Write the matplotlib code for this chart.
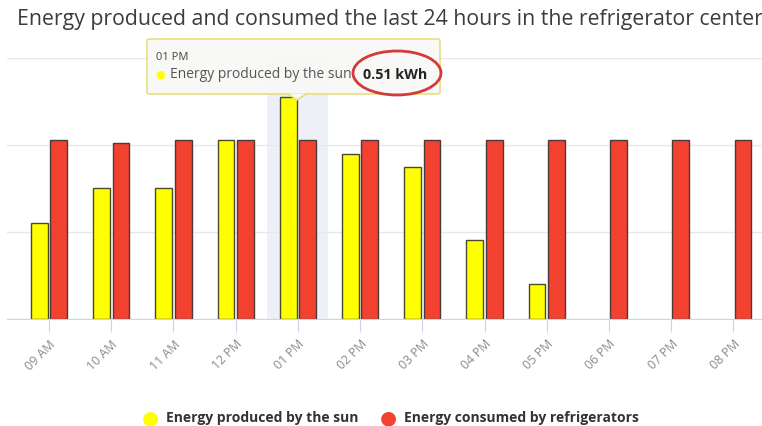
import numpy as np
import matplotlib.pyplot as plt
from matplotlib.patches import FancyBboxPatch, Ellipse, Polygon

hours = ['09 AM', '10 AM', '11 AM', '12 PM', '01 PM', '02 PM',
         '03 PM', '04 PM', '05 PM', '06 PM', '07 PM', '08 PM']
produced = [0.22, 0.30, 0.30, 0.41, 0.51, 0.38, 0.35, 0.18, 0.08, 0, 0, 0]
consumed = [0.41, 0.405, 0.41, 0.41, 0.41, 0.41, 0.41, 0.41, 0.41, 0.41, 0.41, 0.41]
hovered = 4

W, H = 762, 427
fig = plt.figure(figsize=(W / 100, H / 100), dpi=100)
plt.rcParams['font.family'] = ['Open Sans', 'DejaVu Sans']


def px(x, y):
    # pixel position (from top-left) -> figure fraction
    return x / W, 1 - y / H


left, top = px(7, 59)
right, bottom = px(762, 319.5)
ax = fig.add_axes([left, bottom, right - left, top - bottom])

x = np.arange(len(hours))
bw = 0.27
ax.axvspan(hovered - 0.49, hovered + 0.49, color='#e9eef6', alpha=0.8, zorder=0, lw=0)
ax.bar(x - 0.156, produced, bw, color='#ffff00', edgecolor='#4a4a2a',
       linewidth=[1.0 if v > 0 else 0 for v in produced], zorder=3)
ax.bar(x + 0.156, consumed, bw, color='#f3412f', edgecolor='#4a3a3a',
       linewidth=[1.0 if v > 0 else 0 for v in consumed], zorder=3)

ax.set_ylim(0, 0.6)
ax.set_yticks([0, 0.2, 0.4, 0.6])
ax.set_yticklabels([])
ax.tick_params(axis='y', length=0)
ax.set_xlim(-0.675, 11.46)
ax.set_xticks(x)
ax.set_xticklabels(hours, rotation=45, ha='right', rotation_mode='anchor',
                   fontsize=9, color='#8a8a8a')
ax.tick_params(axis='x', length=9, width=0.8, color='#ccd6eb', pad=4)
ax.grid(axis='y', color='#e8e8e8', linewidth=1)
ax.set_axisbelow(True)
for s in ['top', 'right', 'left']:
    ax.spines[s].set_visible(False)
ax.spines['bottom'].set_color('#ccd6eb')
ax.spines['bottom'].set_zorder(4)

fig.text(*px(17, 20), 'Energy produced and consumed the last 24 hours in the refrigerator center',
         fontsize=15.3, color='#3c3c3c', va='center', ha='left')

# legend
fig.text(*px(150, 418), '\u25CF', color='#ffff00', fontsize=14, va='center', ha='center',
         family='DejaVu Sans')
fig.text(*px(166, 418), 'Energy produced by the sun', fontsize=10, fontweight='bold',
         color='#333333', va='center')
fig.text(*px(388, 418), '\u25CF', color='#f3412f', fontsize=14, va='center', ha='center',
         family='DejaVu Sans')
fig.text(*px(404, 418), 'Energy consumed by refrigerators', fontsize=10, fontweight='bold',
         color='#333333', va='center')

# tooltip for the hovered hour
bx0, by0 = px(147, 95)
bx1, by1 = px(440, 40)
box = FancyBboxPatch((bx0, by0), bx1 - bx0, by1 - by0, boxstyle='round,pad=0,rounding_size=0.004',
                     transform=fig.transFigure, facecolor='#f8f8f6', edgecolor='#e6df7a',
                     linewidth=1.2, alpha=0.97, zorder=10)
fig.add_artist(box)
tip = Polygon([px(288, 94.5), px(297, 101), px(306, 94.5)], closed=True,
              transform=fig.transFigure, facecolor='#f8f8f6', edgecolor='none', zorder=11)
fig.add_artist(tip)
fig.add_artist(plt.Line2D(*zip(px(288, 95), px(297, 101), px(306, 95)),
                          transform=fig.transFigure, color='#e6df7a', lw=1.2, zorder=11))
fig.text(*px(156, 58), hours[hovered], fontsize=8, color='#444444', va='center', zorder=12)
fig.text(*px(160, 75), '\u25CF', fontsize=8, color='#ffff00', va='center', ha='center',
         family='DejaVu Sans', zorder=12)
fig.text(*px(170, 75), 'Energy produced by the sun: ', fontsize=10, color='#555555',
         va='center', zorder=12)
fig.text(*px(363, 75), '%.2f kWh' % produced[hovered], fontsize=10.3, fontweight='bold',
         color='#222222', va='center', zorder=12)
# white backing so the circled value stands out from the label
fig.add_artist(FancyBboxPatch(px(356, 85), 75 / W, 20 / H, boxstyle='square,pad=0',
                              transform=fig.transFigure, facecolor='#f8f8f6',
                              edgecolor='none', zorder=11.5))
ring = Ellipse(px(397, 74), 88 / W, 44 / H, transform=fig.transFigure, fill=False,
               edgecolor='#d43a3a', linewidth=2, zorder=13)
fig.add_artist(ring)

fig.savefig('out.png', dpi=100)
